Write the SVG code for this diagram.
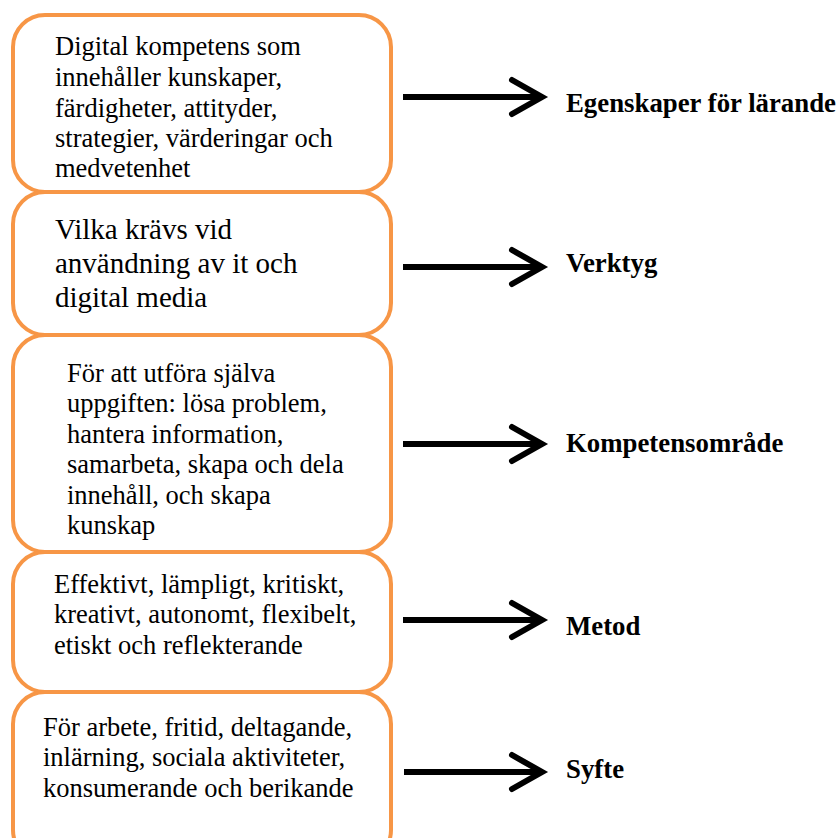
<svg xmlns="http://www.w3.org/2000/svg" width="838" height="838" viewBox="0 0 838 838">
<defs>
<style>
.box{fill:#fff;stroke:#F79646;stroke-width:4}
.t{font-family:"Liberation Serif","Times New Roman",serif;font-size:26.5px;fill:#000}
.t2{font-family:"Liberation Serif","Times New Roman",serif;font-size:29px;fill:#000}
.lab{font-family:"Liberation Serif","Times New Roman",serif;font-size:26.8px;font-weight:bold;fill:#000}
.shaft{stroke:#000;stroke-width:6;fill:none}
.head{stroke:#000;stroke-width:6;fill:none;stroke-linecap:round;stroke-linejoin:miter}
</style>
</defs>
<rect width="838" height="838" fill="#fff"/>
<g id="node1"><rect class="box" x="13" y="15" width="378" height="177" rx="32"/>
<text class="t"><tspan x="55" y="55">Digital kompetens som</tspan><tspan x="55" y="86">innehåller kunskaper,</tspan><tspan x="55" y="117">färdigheter, attityder,</tspan><tspan x="55" y="147">strategier, värderingar och</tspan><tspan x="55" y="177">medvetenhet</tspan></text></g>
<g id="node2"><rect class="box" x="13" y="192" width="378" height="143" rx="32"/>
<text class="t2"><tspan x="55" y="239">Vilka krävs vid</tspan><tspan x="55" y="273">användning av it och</tspan><tspan x="55" y="307">digital media</tspan></text></g>
<g id="node3"><rect class="box" x="13" y="335" width="378" height="217" rx="32"/>
<text class="t"><tspan x="67" y="382">För att utföra själva</tspan><tspan x="67" y="412">uppgiften: lösa problem,</tspan><tspan x="67" y="443">hantera information,</tspan><tspan x="67" y="473">samarbeta, skapa och dela</tspan><tspan x="67" y="504">innehåll, och skapa</tspan><tspan x="67" y="534">kunskap</tspan></text></g>
<g id="node4"><rect class="box" x="13" y="552" width="378" height="140" rx="32"/>
<text class="t"><tspan x="54" y="593">Effektivt, lämpligt, kritiskt,</tspan><tspan x="54" y="623">kreativt, autonomt, flexibelt,</tspan><tspan x="54" y="654">etiskt och reflekterande</tspan></text></g>
<g id="node5"><rect class="box" x="13" y="692" width="378" height="170" rx="32"/>
<text class="t"><tspan x="43" y="736">För arbete, fritid, deltagande,</tspan><tspan x="43" y="766">inlärning, sociala aktiviteter,</tspan><tspan x="43" y="797">konsumerande och berikande</tspan></text></g>
<g id="connectors">
<line class="shaft" x1="403" y1="97" x2="540" y2="97"/><polyline class="head" points="512,80 542,97 512,114"/>
<line class="shaft" x1="403" y1="267" x2="540" y2="267"/><polyline class="head" points="512,250 542,267 512,284"/>
<line class="shaft" x1="403" y1="444" x2="540" y2="444"/><polyline class="head" points="512,427 542,444 512,461"/>
<line class="shaft" x1="403" y1="620" x2="540" y2="620"/><polyline class="head" points="512,603 542,620 512,637"/>
<line class="shaft" x1="404" y1="772" x2="540" y2="772"/><polyline class="head" points="512,755 542,772 512,789"/>
</g>
<g id="labels">
<text class="lab" x="566" y="112">Egenskaper för lärande</text>
<text class="lab" x="566" y="272">Verktyg</text>
<text class="lab" x="566" y="452">Kompetensområde</text>
<text class="lab" x="566" y="635">Metod</text>
<text class="lab" x="566" y="778">Syfte</text>
</g>
</svg>
